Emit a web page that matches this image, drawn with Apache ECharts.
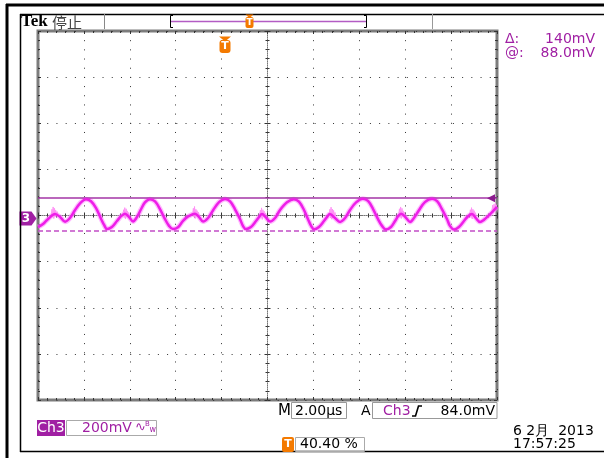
<!DOCTYPE html>
<html><head><meta charset="utf-8">
<script src="https://cdn.jsdelivr.net/npm/echarts@6/dist/echarts.min.js"></script>
<style>html,body{margin:0;padding:0;background:#fff}#c{width:604px;height:458px}</style>
</head><body><div id="c"></div>
<script>
// ---- data (time in µs relative to trigger, amplitude in mV) ----
const traceTimeUs = [-8.08,-7.86,-7.64,-7.34,-7.12,-6.90,-6.69,-6.47,-6.25,-5.99,-5.77,-5.55,-5.33,-5.20,-5.07,
  -4.86,-4.64,-4.46,-4.29,-4.11,-3.94,-3.77,-3.59,-3.42,-3.20,-2.98,-2.76,-2.55,-2.37,-2.20,
  -1.98,-1.76,-1.54,-1.24,-1.06,-0.89,-0.67,-0.45,-0.19,0.07,0.29,0.50,0.72,0.85,0.98,
  1.20,1.42,1.55,1.68,1.85,2.03,2.25,2.46,2.77,3.07,3.29,3.51,3.68,3.82,3.95,
  4.16,4.38,4.51,4.64,4.86,5.08,5.30,5.51,5.78,6.08,6.30,6.52,6.73,6.91,7.08,
  7.30,7.48,7.61,7.74,7.95,8.13,8.30,8.52,8.78,9.09,9.31,9.52,9.74,9.87,10.05,
  10.26,10.48,10.66,10.83,11.00,11.18,11.35,11.53,11.75,11.92];
const traceMv = [-37,-24,-2,19,7,-14,2,36,66,84,75,45,-2,-28,-46,
  -37,-11,10,21,6,-13,6,40,70,84,74,40,-2,-32,-46,
  -38,-10,9,21,6,-13,2,36,71,85,74,41,-2,-32,-46,
  -37,-11,6,19,5,-13,2,36,70,84,73,37,-2,-32,-47,
  -37,-11,6,19,2,-15,2,36,70,86,76,41,-2,-32,-48,
  -37,-11,10,21,4,-15,2,36,71,86,75,41,-2,-32,-48,
  -37,-11,10,19,2,-15,-6,10,32,50];
const noiseTimeUs = [-7.50,-7.47,-7.44,-7.42,-7.39,-7.36,-7.33,-7.31,-7.28,-7.25,-7.22,null,
  -4.38,-4.35,-4.32,-4.30,-4.27,-4.24,-4.21,-4.19,-4.16,-4.13,-4.10,null,
  -1.34,-1.31,-1.28,-1.26,-1.23,-1.20,-1.17,-1.15,-1.12,-1.09,-1.06,null,
  1.58,1.61,1.64,1.66,1.69,1.72,1.75,1.77,1.80,1.83,1.86,null,
  4.61,4.64,4.67,4.69,4.72,4.75,4.78,4.80,4.83,4.86,4.89,null,
  7.64,7.67,7.70,7.72,7.75,7.78,7.81,7.83,7.86,7.89,7.92,null,
  10.73,10.76,10.79,10.81,10.84,10.87,10.90,10.92,10.95,10.98,11.01,null,
  11.70,11.73,11.76,11.79,11.82,11.85,11.88,11.91];
const noiseMv = [12,40,6,50,0,44,8,36,14,30,16,null,
  14,38,4,47,-2,42,6,33,10,26,12,null,
  16,44,6,52,0,40,10,34,8,27,14,null,
  14,36,4,46,-4,38,8,32,10,24,12,null,
  12,40,2,49,-3,41,6,35,9,26,10,null,
  15,42,5,50,0,44,8,33,12,28,13,null,
  14,38,4,47,-2,40,6,34,9,25,12,null,
  30,58,26,62,34,66,40,60];
const cursorMv = [88.0, -52.0];
const groundMv = 0;
const xRangeUs = [-8.08, 11.92];
const yRangeMv = [-787, 813];
const xDivs = 10, yDivs = 8;

// ---- text ----
const headerText = ['Tek', '停止'];
const cursorLabels = ['Δ:', '@:'];
const cursorValues = ['140mV', '88.0mV'];
const timebaseText = ['M', '2.00µs'];
const triggerText = ['A', 'Ch3', '84.0mV'];
const channelText = ['Ch3', '200mV'];
const triggerPosText = '40.40 %';
const dateLines = ['6 2月  2013', '17:57:25'];

const PURPLE = '#a01fa3', ORANGE = '#f47a00', FONT = '"DejaVu Sans"';

const trace = traceTimeUs.map((t, i) => [t, traceMv[i]]);
const noise = noiseTimeUs.map((t, i) => t === null ? ['-', '-'] : [t, noiseMv[i]]);

function txt(x, y, text, font, fill, align) {
  return {type:'text', x:x, y:y, silent:true, z:100,
    style:{text:text, font:font, fill:fill, align:align||'left', verticalAlign:'middle',
           textAlign:align||'left', textVerticalAlign:'middle'}};
}
function ln(x1, y1, x2, y2, stroke, w) {
  return {type:'line', silent:true, z:100, shape:{x1:x1,y1:y1,x2:x2,y2:y2}, style:{stroke:stroke, lineWidth:w}};
}
function rect(x, y, w, h, opts) {
  return Object.assign({type:'rect', silent:true, z:100, shape:{x:x,y:y,width:w,height:h,r:(opts&&opts.r)||0}},
    {style:{fill:(opts&&opts.fill)||'none', stroke:(opts&&opts.stroke)||null, lineWidth:(opts&&opts.lw)||1}});
}

const gridTickStyle = {color:'#333', width:1};
function gridAxis(pos, extra) {
  return Object.assign({
    type:'value', position:pos, gridIndex:0,
    axisLine:{show:false, onZero:false},
    axisLabel:{show:false},
    axisTick:{show:true, inside:true, length:3, lineStyle:gridTickStyle},
    minorTick:{show:true, splitNumber:5, length:2, lineStyle:gridTickStyle},
    splitLine:{show:false}
  }, extra);
}

const chart = echarts.init(document.getElementById('c'), null, {renderer:'canvas'});
chart.setOption({
  animation:false,
  backgroundColor:'#fff',
  grid:{left:38, top:31, width:459, height:369, show:true, borderColor:'#7c7c7c', borderWidth:3, backgroundColor:'transparent'},
  xAxis:[
    {type:'value', min:xRangeUs[0], max:xRangeUs[1], show:false, axisLine:{onZero:false}},
    gridAxis('bottom', {min:0, max:xDivs, interval:1,
      splitLine:{show:true, lineStyle:{color:'#333', width:1, type:[1, 8.18]}}}),
    gridAxis('top', {min:0, max:xDivs, interval:1}),
    gridAxis('bottom', {min:0, max:xDivs, interval:1, offset:-184.5,
      axisLine:{show:true, onZero:false, lineStyle:{color:'#777', width:1, type:[1,1]}}}),
    gridAxis('bottom', {min:0, max:xDivs, interval:1, offset:-184.5,
      axisTick:{show:true, inside:false, length:3, lineStyle:gridTickStyle}})
  ],
  yAxis:[
    {type:'value', min:yRangeMv[0], max:yRangeMv[1], show:false, axisLine:{onZero:false}},
    gridAxis('left', {min:-yDivs/2, max:yDivs/2, interval:1,
      splitLine:{show:true, lineStyle:{color:'#333', width:1, type:[1, 8.22]}}}),
    gridAxis('right', {min:-yDivs/2, max:yDivs/2, interval:1}),
    gridAxis('left', {min:-yDivs/2, max:yDivs/2, interval:1, offset:-229.5,
      axisLine:{show:true, onZero:false, lineStyle:{color:'#777', width:1, type:[1,1]}}}),
    gridAxis('left', {min:-yDivs/2, max:yDivs/2, interval:1, offset:-229.5,
      axisTick:{show:true, inside:false, length:3, lineStyle:gridTickStyle}})
  ],
  series:[
    {type:'line', name:'halo', xAxisIndex:0, yAxisIndex:0, data:trace, symbol:'none', smooth:0.35,
     lineStyle:{color:'rgba(255,130,255,0.55)', width:5}, silent:true, z:3},
    {type:'line', name:'noise', xAxisIndex:0, yAxisIndex:0, data:noise, symbol:'none', connectNulls:false,
     lineStyle:{color:'#ff90f6', width:1}, silent:true, z:4},
    {type:'line', name:'Ch3', xAxisIndex:0, yAxisIndex:0, data:trace, symbol:'none', smooth:0.35, clip:false,
     lineStyle:{color:'#ee1ee8', width:2.5}, silent:true, z:5,
     markLine:{silent:true, symbol:'none', label:{show:false}, animation:false,
       data:[
         {yAxis:cursorMv[0], lineStyle:{color:'#a334a6', width:1.5, type:'solid'}},
         {yAxis:cursorMv[1], lineStyle:{color:'#c24ec6', width:1.5, type:[5,3]}}
       ]},
     markPoint:{silent:true, animation:false,
       data:[
         {coord:[xRangeUs[0], groundMv], symbol:'path://M0,0L12,0L17,7L12,14L0,14Z', symbolSize:[17,14],
          symbolOffset:[-10,0], itemStyle:{color:PURPLE},
          label:{show:true, formatter:'3', color:'#fff', fontSize:12, fontWeight:'bold', fontFamily:FONT, offset:[-2,0]}},
         {coord:[xRangeUs[1], cursorMv[0]], symbol:'path://M0,4L8,0L8,8Z', symbolSize:[8,8],
          symbolOffset:[-6,0], itemStyle:{color:'#8c1a8f'}, label:{show:false}}
       ]}}
  ],
  graphic:[
    // frame
    ln(6, 5, 604, 5, '#000', 3),
    ln(7, 4, 7, 458, '#000', 3),
    ln(20, 14.5, 604, 14.5, '#000', 1.5),
    ln(20.5, 14, 20.5, 452, '#000', 1.5),
    ln(20, 451.5, 604, 451.5, '#000', 1.5),
    // header
    txt(21, 22, headerText[0], 'bold 17px "Liberation Serif"', '#000'),
    txt(52, 22, headerText[1], '15px "Noto Sans CJK SC"', '#444'),
    ln(104.5, 14, 104.5, 29, '#888', 1),
    ln(432.5, 14, 432.5, 29, '#999', 1),
    {type:'polyline', silent:true, z:100, shape:{points:[[173,15.5],[170.5,15.5],[170.5,27.5],[173,27.5]]}, style:{stroke:'#000', lineWidth:1, fill:'none'}},
    {type:'polyline', silent:true, z:100, shape:{points:[[364,15.5],[366.5,15.5],[366.5,27.5],[364,27.5]]}, style:{stroke:'#000', lineWidth:1, fill:'none'}},
    ln(171, 21.5, 366, 21.5, '#b35cc4', 1.5),
    {type:'polygon', silent:true, z:101, shape:{points:[[245.5,14.5],[253.5,14.5],[249.5,18]]}, style:{fill:ORANGE}},
    rect(245.5, 17, 8, 11, {fill:ORANGE, r:2}),
    txt(249.5, 22.5, 'T', 'bold 9px ' + FONT, '#fff', 'center'),
    // trigger position marker
    {type:'polygon', silent:true, z:101, shape:{points:[[219,36.5],[231,36.5],[225,41.5]]}, style:{fill:ORANGE}},
    rect(219.5, 40, 11, 13, {fill:ORANGE, r:3}),
    txt(225, 46.5, 'T', 'bold 11px ' + FONT, '#fff', 'center'),
    // cursor readouts
    txt(505, 39, cursorLabels[0], '14px ' + FONT, PURPLE),
    txt(595, 39, cursorValues[0], '14px ' + FONT, PURPLE, 'right'),
    txt(505, 53, cursorLabels[1], '14px ' + FONT, PURPLE),
    txt(595, 53, cursorValues[1], '14px ' + FONT, PURPLE, 'right'),
    // bottom readouts
    txt(278, 411, timebaseText[0], '15px ' + FONT, '#000'),
    rect(291.5, 402.5, 55, 16, {stroke:'#999'}),
    txt(295, 411, timebaseText[1], '14px ' + FONT, '#000'),
    txt(361, 411, triggerText[0], '14px ' + FONT, '#000'),
    rect(372.5, 402.5, 124.5, 16, {stroke:'#999'}),
    txt(383, 411, triggerText[1], '14px ' + FONT, PURPLE),
    {type:'polyline', silent:true, z:100, shape:{points:[[412,416],[415.5,416],[418.5,406],[422,406]]}, style:{stroke:'#000', lineWidth:1.6, fill:'none'}},
    txt(495, 411, triggerText[2], '14px ' + FONT, '#000', 'right'),
    rect(37, 420, 28, 16, {fill:PURPLE}),
    txt(51, 428, channelText[0], '14px ' + FONT, '#fff', 'center'),
    rect(66.5, 420.5, 90, 15, {stroke:'#aaa'}),
    txt(82, 428, channelText[1], '14px ' + FONT, PURPLE),
    txt(135, 428, '∿', '13px ' + FONT, PURPLE),
    txt(145, 424, 'B', '7px ' + FONT, PURPLE),
    txt(149.5, 430, 'w', '8px ' + FONT, PURPLE),
    rect(282, 437, 12, 15, {fill:ORANGE, r:2}),
    txt(288, 444.5, 'T', 'bold 11px ' + FONT, '#fff', 'center'),
    rect(295.5, 437.5, 69, 14, {stroke:'#aaa'}),
    txt(300, 444.5, triggerPosText, '14px ' + FONT, '#000'),
    txt(513, 431, dateLines[0], '14px ' + FONT, '#000'),
    txt(513, 444, dateLines[1], '14px ' + FONT, '#000')
  ]
});
</script></body></html>
